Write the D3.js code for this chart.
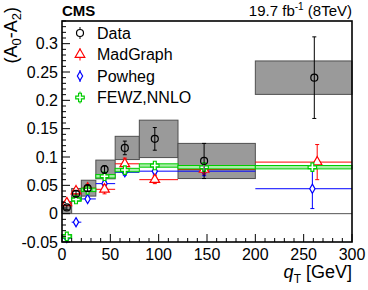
<!DOCTYPE html>
<html>
<head>
<meta charset="utf-8">
<script src="https://cdn.jsdelivr.net/npm/d3@7"></script>
<style>
  body { margin: 0; background: #fff; }
  text { font-family: "Liberation Sans", Arial, sans-serif; }
</style>
</head>
<body>
<script>
// q_T bins
var binEdges = [0, 10, 20, 35, 55, 80, 120, 200, 300];

// measured A0-A2 with stat. error and syst. box
var dataX    = [5, 14.5, 26.5, 44, 65, 96, 147, 261];
var dataY    = [0.011, 0.035, 0.045, 0.078, 0.116, 0.132, 0.093, 0.240];
var dataStat = [0.004, 0.005, 0.005, 0.007, 0.012, 0.020, 0.031, 0.072];
var dataSyst = [0.0105, 0.0095, 0.014, 0.0165, 0.0205, 0.033, 0.031, 0.0295];

// predictions
var mgX   = [5, 14.5, 26.5, 44, 65, 96, 147, 264];
var mgY   = [0.019, 0.040, 0.045, 0.043, 0.088, 0.060, 0.078, 0.091];
var mgErr = [0.004, 0.005, 0.005, 0.008, 0.010, 0.007, 0.008, 0.031];

var powX   = [5, 14.5, 26.5, 44, 65, 96, 147, 259];
var powY   = [-0.043, -0.015, 0.026, 0.053, 0.073, 0.075, 0.075, 0.044];
var powErr = [0.002, 0.003, 0.003, 0.004, 0.005, 0.005, 0.008, 0.035];

var fewzX   = [5, 14.5, 26.5, 44, 65, 96, 147, 259];
var fewzY   = [-0.040, 0.025, 0.042, 0.066, 0.077, 0.085, 0.082, 0.082];
var fewzErr = [0.003, 0.003, 0.003, 0.003, 0.003, 0.003, 0.003, 0.003];

var yTicks = [-0.05, 0, 0.05, 0.1, 0.15, 0.2, 0.25, 0.3];
var yTickLabels = ["-0.05", "0", "0.05", "0.1", "0.15", "0.2", "0.25", "0.3"];
var xTicks = [0, 50, 100, 150, 200, 250, 300];

var legendNames = ["Data", "MadGraph", "Powheg", "FEWZ,NNLO"];

var red = "#ff0000", blue = "#0000ff", green = "#00cc00";

var margin = {top: 21, right: 16, bottom: 48, left: 62},
    width = 368 - margin.left - margin.right,
    height = 290 - margin.top - margin.bottom;

var x = d3.scaleLinear().domain([0, 300]).range([0, width]);
var y = d3.scaleLinear().domain([-0.05, 0.34]).range([height, 0]);

var root = d3.select("body").append("svg")
    .attr("width", width + margin.left + margin.right)
    .attr("height", height + margin.top + margin.bottom);

var svg = root.append("g")
    .attr("transform", "translate(" + margin.left + "," + margin.top + ")");

var plot = svg.append("g");

// syst boxes
plot.selectAll(".syst")
    .data(dataY)
    .enter().append("rect")
    .attr("x", function(d, i) { return x(binEdges[i]); })
    .attr("width", function(d, i) { return x(binEdges[i + 1]) - x(binEdges[i]); })
    .attr("y", function(d, i) { return y(d + dataSyst[i]); })
    .attr("height", function(d, i) { return y(d - dataSyst[i]) - y(d + dataSyst[i]); })
    .style("fill", "#9a9a9a")
    .style("stroke", "#505050")
    .style("stroke-width", 1);

// zero line
plot.append("line")
    .attr("x1", 0).attr("x2", width)
    .attr("y1", y(0)).attr("y2", y(0))
    .style("stroke", "#555").style("stroke-width", 1);

// generic error-bar series
function drawSeries(xs, ys, errs, color, sym, size) {
  var g = plot.append("g");
  ys.forEach(function(v, i) {
    g.append("line")
        .attr("x1", x(binEdges[i])).attr("x2", x(binEdges[i + 1]))
        .attr("y1", y(v)).attr("y2", y(v))
        .style("stroke", color).style("stroke-width", 1);
    g.append("line")
        .attr("x1", x(xs[i])).attr("x2", x(xs[i]))
        .attr("y1", y(v + errs[i])).attr("y2", y(v - errs[i]))
        .style("stroke", color).style("stroke-width", 1);
    [v + errs[i], v - errs[i]].forEach(function(e) {
      g.append("line")
          .attr("x1", x(xs[i]) - 2).attr("x2", x(xs[i]) + 2)
          .attr("y1", y(e)).attr("y2", y(e))
          .style("stroke", color).style("stroke-width", 1);
    });
    g.append("path")
        .attr("d", d3.symbol().type(sym).size(size))
        .attr("transform", "translate(" + x(xs[i]) + "," + y(v) + ")")
        .style("fill", "white").style("stroke", color).style("stroke-width", 1.2);
  });
}

// FEWZ as thin bands
var fewz = plot.append("g");
fewzY.forEach(function(v, i) {
  fewz.append("rect")
      .attr("x", x(binEdges[i]))
      .attr("width", x(binEdges[i + 1]) - x(binEdges[i]))
      .attr("y", y(v + fewzErr[i]))
      .attr("height", y(v - fewzErr[i]) - y(v + fewzErr[i]))
      .style("fill", "#a8eea8").style("stroke", green).style("stroke-width", 1);
});

drawSeries(powX, powY, powErr, blue, d3.symbolDiamond, 24);
drawSeries(mgX, mgY, mgErr, red, d3.symbolTriangle, 40);

// FEWZ markers on top
fewzY.forEach(function(v, i) {
  fewz.append("path")
      .attr("d", d3.symbol().type(d3.symbolCross).size(40))
      .attr("transform", "translate(" + x(fewzX[i]) + "," + y(v) + ")")
      .style("fill", "white").style("stroke", green).style("stroke-width", 1.2);
});
plot.node().appendChild(fewz.node());

// data points
var dat = plot.append("g");
dataY.forEach(function(v, i) {
  dat.append("line")
      .attr("x1", x(dataX[i])).attr("x2", x(dataX[i]))
      .attr("y1", y(v + dataStat[i])).attr("y2", y(v - dataStat[i]))
      .style("stroke", "black").style("stroke-width", 1);
  [v + dataStat[i], v - dataStat[i]].forEach(function(e) {
    dat.append("line")
        .attr("x1", x(dataX[i]) - 2).attr("x2", x(dataX[i]) + 2)
        .attr("y1", y(e)).attr("y2", y(e))
        .style("stroke", "black").style("stroke-width", 1);
  });
  dat.append("circle")
      .attr("cx", x(dataX[i])).attr("cy", y(v)).attr("r", 3.5)
      .style("fill", "none").style("stroke", "black").style("stroke-width", 1.2);
});

// axes with inside ticks (ROOT style)
var yAxis = svg.append("g");
d3.range(-0.05, 0.3401, 0.01).forEach(function(t) {
  var major = yTicks.some(function(m) { return Math.abs(m - t) < 1e-6; });
  yAxis.append("line")
      .attr("x1", 0).attr("x2", major ? 8 : 4)
      .attr("y1", y(t)).attr("y2", y(t))
      .style("stroke", "black").style("stroke-width", 1);
});
yTicks.forEach(function(t, i) {
  yAxis.append("text")
      .attr("x", -4).attr("y", y(t)).attr("dy", "0.36em")
      .attr("text-anchor", "end")
      .style("font-size", "16px")
      .text(yTickLabels[i]);
});

var xAxis = svg.append("g");
d3.range(0, 301, 10).forEach(function(t) {
  var major = t % 50 === 0;
  xAxis.append("line")
      .attr("x1", x(t)).attr("x2", x(t))
      .attr("y1", height).attr("y2", height - (major ? 8 : 4))
      .style("stroke", "black").style("stroke-width", 1);
});
xTicks.forEach(function(t) {
  xAxis.append("text")
      .attr("x", x(t)).attr("y", height + 18)
      .attr("text-anchor", "middle")
      .style("font-size", "16px")
      .text(t);
});

// frame
svg.append("rect")
    .attr("width", width).attr("height", height)
    .style("fill", "none").style("stroke", "black").style("stroke-width", 1.6);

// legend
var legend = svg.append("g");
var legColors = ["black", red, blue, green];
legendNames.forEach(function(name, i) {
  var ly = 12 + i * 21.5, lx = 18;
  legend.append("line")
      .attr("x1", lx).attr("x2", lx).attr("y1", ly - 6).attr("y2", ly + 6)
      .style("stroke", legColors[i]).style("stroke-width", 1);
  var m;
  if (i === 0) {
    m = legend.append("circle").attr("cx", lx).attr("cy", ly).attr("r", 3.5);
  } else {
    var t = [null, d3.symbolTriangle, d3.symbolDiamond, d3.symbolCross][i];
    m = legend.append("path")
        .attr("d", d3.symbol().type(t).size(i === 2 ? 24 : 40))
        .attr("transform", "translate(" + lx + "," + ly + ")");
  }
  m.style("fill", "white").style("stroke", legColors[i]).style("stroke-width", 1.2);
  legend.append("text")
      .attr("x", 35).attr("y", ly).attr("dy", "0.36em")
      .style("font-size", "16px")
      .text(name);
});

// labels
root.append("text")
    .attr("x", 62).attr("y", 16)
    .style("font-size", "15px").style("font-weight", "bold")
    .text("CMS");

var lumi = root.append("text")
    .attr("x", 352).attr("y", 16)
    .attr("text-anchor", "end")
    .style("font-size", "15px");
lumi.append("tspan").text("19.7 fb");
lumi.append("tspan").attr("dy", -6).style("font-size", "10px").text("-1");
lumi.append("tspan").attr("dy", 6).text(" (8TeV)");

var xt = root.append("text")
    .attr("x", 352).attr("y", 278)
    .attr("text-anchor", "end")
    .style("font-size", "18px");
xt.append("tspan").style("font-style", "italic").text("q");
xt.append("tspan").attr("dy", 5).style("font-size", "12px").text("T");
xt.append("tspan").attr("dy", -5).text(" [GeV]");

var yt = root.append("text")
    .attr("transform", "translate(17,7) rotate(-90)")
    .attr("text-anchor", "end")
    .style("font-size", "18px");
yt.append("tspan").text("(A");
yt.append("tspan").attr("dy", 4).style("font-size", "13px").text("0");
yt.append("tspan").attr("dy", -4).text("-A");
yt.append("tspan").attr("dy", 4).style("font-size", "13px").text("2");
yt.append("tspan").attr("dy", -4).text(")");
</script>
</body>
</html>
